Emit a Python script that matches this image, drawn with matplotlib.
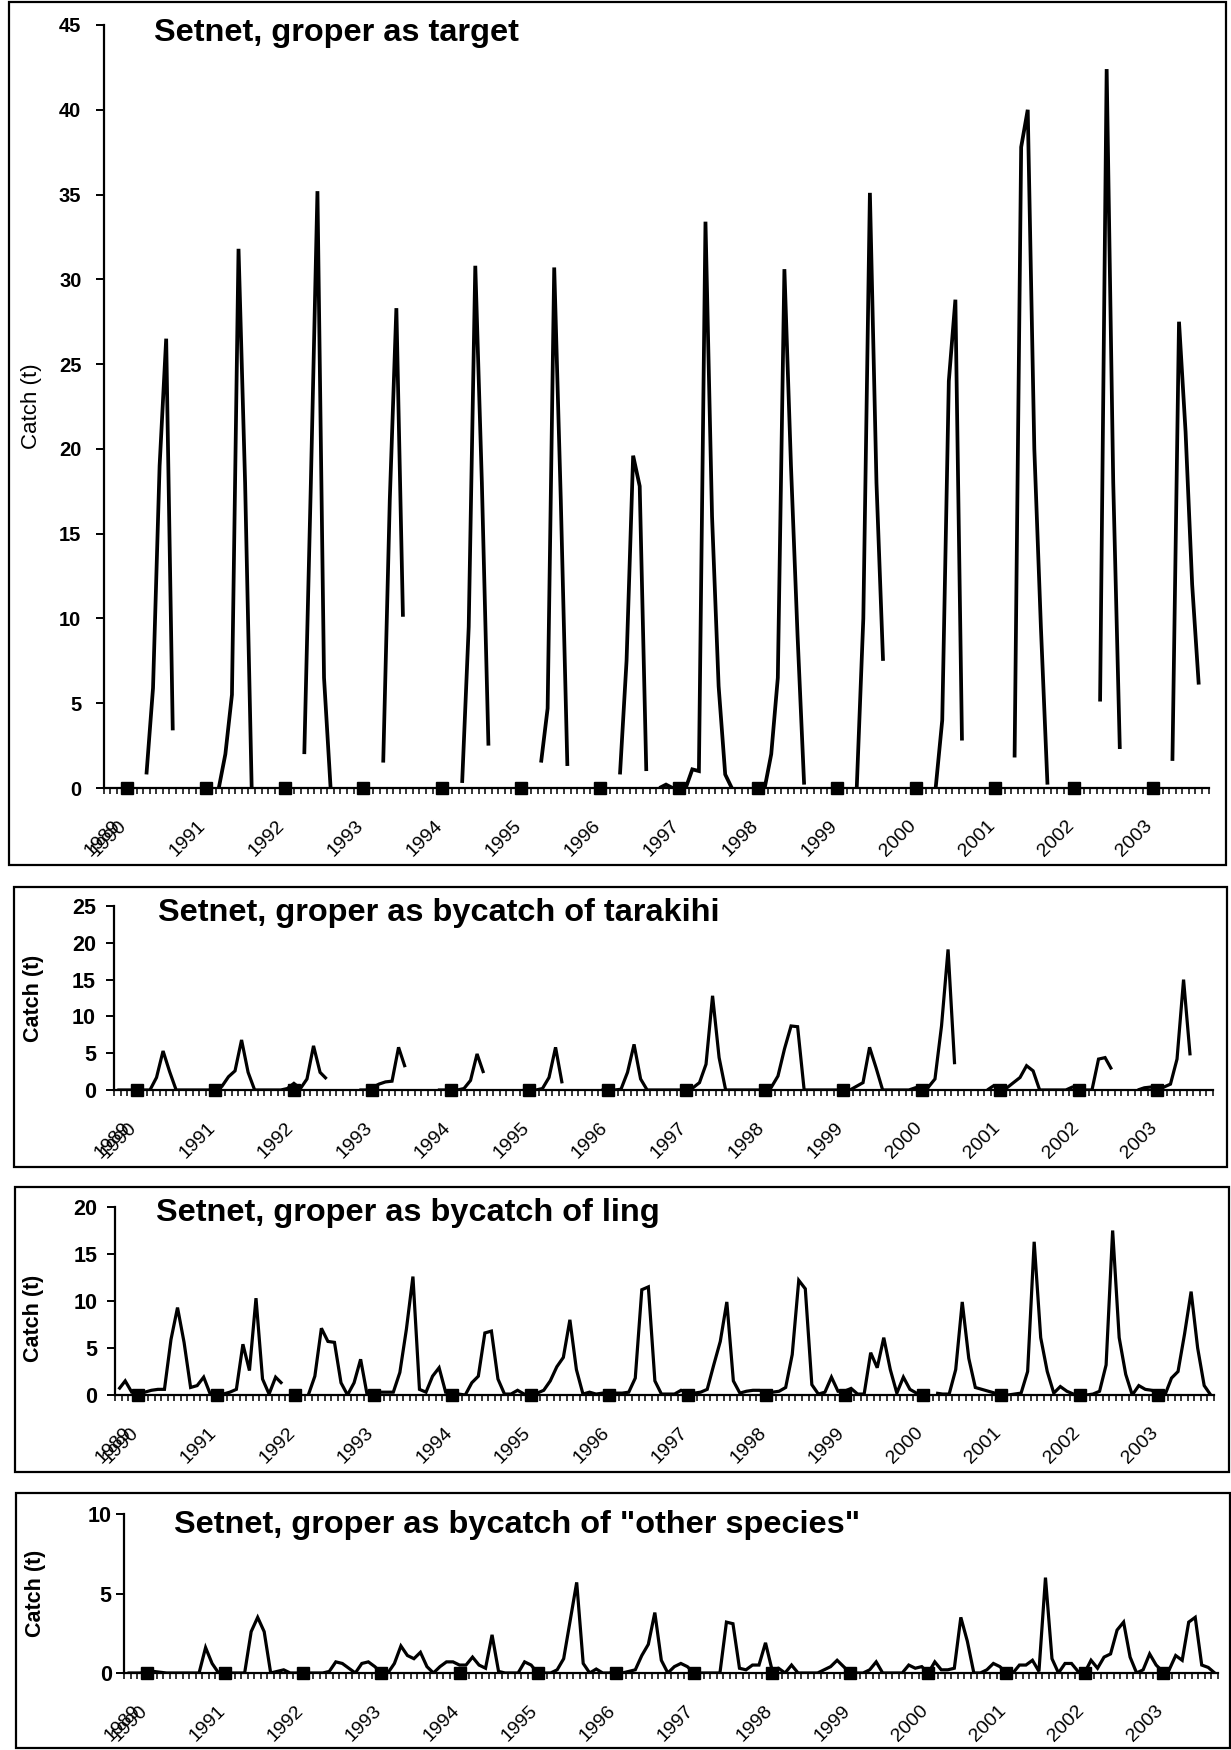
import matplotlib
matplotlib.use("Agg")
import matplotlib.pyplot as plt
import numpy as np
from matplotlib.patches import Rectangle
from matplotlib.transforms import ScaledTranslation

plt.rcParams['font.family'] = ['Liberation Sans', 'DejaVu Sans']

N = float('nan')

# ---------------- data ----------------
# monthly categories, 14 fishing years x 12 months (index 0 .. 167)
months = list(range(168))
year_labels = ['1989', '1990', '1991', '1992', '1993', '1994', '1995', '1996',
               '1997', '1998', '1999', '2000', '2001', '2002', '2003']
year_label_month = [0, 1, 13, 25, 37, 49, 61, 73, 85, 97, 109, 121, 133, 145, 157]
# year-start markers (plotted at zero)
marker_month = [3, 15, 27, 39, 51, 63, 75, 87, 99, 111, 123, 135, 147, 159]
marker_value = [0] * 14

target = [
    N, N, N, N, N, N, 0.8, 5.9, 19.0, 26.5, 3.4, N,
    N, N, N, N, N, 0.0, 2.0, 5.5, 31.8, 18.0, 0.0, N,
    N, N, N, N, N, N, 2.0, 18.0, 35.2, 6.5, 0.0, N,
    N, N, N, N, N, N, 1.5, 17.0, 28.3, 10.1, N, N,
    N, N, N, N, N, N, 0.3, 9.5, 30.8, 18.0, 2.5, N,
    N, N, N, N, N, N, 1.5, 4.7, 30.7, 17.0, 1.3, N,
    N, N, N, N, N, N, 0.8, 7.5, 19.6, 17.8, 1.0, N,
    0.0, 0.2, 0.0, N, 0.0, 1.1, 1.0, 33.4, 16.0, 6.0, 0.8, 0.0,
    N, N, N, N, 0.0, 2.0, 6.5, 30.6, 19.0, 9.0, 0.2, N,
    N, N, N, N, N, N, 0.0, 10.0, 35.1, 18.0, 7.5, N,
    N, N, N, N, N, N, 0.0, 4.0, 24.0, 28.8, 2.8, N,
    N, N, N, N, N, N, 1.8, 37.8, 40.0, 20.0, 9.5, 0.2,
    N, N, N, N, N, N, N, 5.1, 42.4, 18.0, 2.3, N,
    N, N, N, N, N, N, 1.6, 27.5, 21.0, 12.0, 6.1, N,
]

tarakihi = [
    0.0, 0.0, 0.0, 0.0, 0.0, 0.0, 1.7, 5.3, 2.5, 0.0, 0.0, 0.0,
    0.0, 0.0, 0.0, 0.3, 0.5, 1.8, 2.6, 6.8, 2.4, 0.0, 0.0, 0.0,
    0.0, 0.0, 0.2, 0.9, 0.2, 1.5, 6.0, 2.4, 1.5, N, N, N,
    N, 0.0, 0.0, 0.3, 0.8, 1.1, 1.2, 5.8, 3.1, N, N, N,
    N, 0.0, 0.0, 0.0, 0.0, 0.2, 1.3, 4.9, 2.3, N, N, N,
    N, N, 0.0, 0.0, 0.0, 0.2, 1.7, 5.8, 0.9, N, N, N,
    N, N, 0.0, 0.0, 0.0, 0.1, 2.4, 6.2, 1.5, 0.0, 0.0, 0.0,
    0.0, 0.0, 0.0, 0.0, 0.3, 1.0, 3.5, 12.8, 4.4, 0.0, 0.0, 0.0,
    0.0, 0.0, 0.0, 0.0, 0.4, 1.9, 5.6, 8.7, 8.6, 0.0, 0.0, 0.0,
    0.0, 0.0, 0.0, 0.0, 0.0, 0.5, 1.0, 5.8, 3.0, 0.0, 0.0, 0.0,
    0.0, 0.0, 0.3, 0.5, 0.4, 1.5, 8.7, 19.1, 3.5, N, N, N,
    N, 0.0, 0.6, 0.0, 0.3, 1.0, 1.7, 3.3, 2.6, 0.0, 0.0, 0.0,
    0.0, 0.0, 0.4, 0.5, 0.0, 0.0, 4.2, 4.4, 2.8, N, N, N,
    0.0, 0.3, 0.4, 0.0, 0.4, 0.8, 4.2, 15.0, 4.7, N, N, N,
]

ling = [
    0.6, 1.5, 0.3, 0.3, 0.3, 0.5, 0.6, 0.6, 5.9, 9.3, 5.6, 0.8,
    1.0, 1.9, 0.1, 0.1, 0.1, 0.3, 0.6, 5.4, 2.6, 10.3, 1.7, 0.1,
    1.9, 1.2, N, N, N, 0.0, 2.0, 7.1, 5.7, 5.6, 1.3, 0.0,
    1.3, 3.8, 0.0, 0.2, 0.3, 0.3, 0.3, 2.4, 7.0, 12.6, 0.6, 0.3,
    2.0, 2.9, 0.3, 0.3, 0.1, 0.0, 1.3, 2.0, 6.6, 6.8, 1.7, 0.1,
    0.1, 0.5, 0.1, 0.1, 0.2, 0.5, 1.5, 3.0, 4.0, 8.0, 2.7, 0.1,
    0.3, 0.1, 0.2, 0.2, 0.2, 0.2, 0.3, 1.8, 11.2, 11.5, 1.5, 0.1,
    0.1, 0.1, 0.5, 0.3, 0.2, 0.3, 0.6, 3.2, 5.7, 9.9, 1.5, 0.2,
    0.4, 0.5, 0.5, 0.3, 0.3, 0.4, 0.8, 4.3, 12.2, 11.3, 1.1, 0.1,
    0.3, 1.9, 0.4, 0.4, 0.7, 0.1, 0.1, 4.5, 2.9, 6.1, 2.7, 0.2,
    1.9, 0.6, 0.2, 0.2, N, 0.2, 0.1, 0.1, 2.7, 9.9, 3.9, 0.8,
    0.6, 0.4, 0.2, 0.0, 0.0, 0.1, 0.2, 2.5, 16.3, 6.1, 2.5, 0.2,
    0.9, 0.4, 0.1, 0.0, 0.0, 0.1, 0.4, 3.2, 17.5, 6.1, 2.2, 0.0,
    1.0, 0.6, 0.5, 0.0, 0.0, 1.8, 2.5, 6.5, 11.0, 5.0, 1.0, 0.0,
]

other = [
    0.0, 0.0, 0.0, 0.1, 0.1, 0.05, 0.0, 0.0, 0.0, 0.0, 0.0, 0.0,
    1.6, 0.6, 0.0, 0.0, 0.0, 0.0, 0.0, 2.6, 3.5, 2.6, 0.0, 0.1,
    0.2, 0.0, 0.0, 0.0, 0.0, 0.0, 0.0, 0.1, 0.7, 0.6, 0.3, 0.0,
    0.6, 0.7, 0.4, 0.0, 0.0, 0.6, 1.7, 1.1, 0.9, 1.3, 0.4, 0.0,
    0.4, 0.7, 0.7, 0.5, 0.5, 1.0, 0.5, 0.3, 2.4, 0.1, 0.0, 0.0,
    0.0, 0.7, 0.5, 0.0, 0.0, 0.0, 0.2, 0.9, 3.3, 5.7, 0.6, 0.0,
    0.25, 0.0, 0.0, 0.1, 0.0, 0.1, 0.2, 1.1, 1.8, 3.8, 0.8, 0.0,
    0.4, 0.6, 0.4, 0.0, 0.0, 0.0, 0.0, 0.0, 3.2, 3.1, 0.3, 0.2,
    0.5, 0.5, 1.9, 0.2, 0.3, 0.0, 0.5, 0.0, 0.0, 0.0, 0.0, 0.2,
    0.4, 0.8, 0.4, 0.0, 0.0, 0.0, 0.2, 0.7, 0.0, 0.0, 0.0, 0.0,
    0.5, 0.3, 0.4, 0.0, 0.7, 0.2, 0.2, 0.3, 3.5, 2.0, 0.0, 0.0,
    0.2, 0.6, 0.4, 0.0, 0.0, 0.5, 0.5, 0.8, 0.1, 6.0, 0.9, 0.0,
    0.6, 0.6, 0.1, 0.0, 0.8, 0.3, 1.0, 1.2, 2.7, 3.2, 1.0, 0.0,
    0.2, 1.2, 0.5, 0.1, 0.2, 1.1, 0.8, 3.2, 3.5, 0.5, 0.35, 0.0,
]

titles = ['Setnet, groper as target',
          'Setnet, groper as bycatch of tarakihi',
          'Setnet, groper as bycatch of ling',
          'Setnet, groper as bycatch of "other species"']
series = [target, tarakihi, ling, other]
y_max = [45, 25, 20, 10]
y_step = [5, 5, 5, 5]

# ---------------- layout (pixels) ----------------
W, H = 1231, 1750
fig = plt.figure(figsize=(W / 100, H / 100), dpi=100)
fig.patch.set_facecolor('white')

# axes rectangles: left, right, top, bottom
axes_px = [(103.7, 1208.6, 25, 788),
           (114, 1213, 906, 1090),
           (115.4, 1214, 1207, 1395),
           (124.2, 1218, 1514, 1673)]
boxes_px = [(9, 1226, 2, 865),
            (14, 1227, 887, 1167),
            (15, 1229, 1187, 1472),
            (16, 1230, 1493, 1748)]
title_px = [(154, 33), (158, 913), (156, 1213), (174, 1525)]
ylabel_px = [(32, 406), (34, 998), (34, 1318), (36, 1593)]
ylabel_weight = ['normal', 'bold', 'bold', 'bold']
ylabel_size = [16, 15.5, 15.5, 15.5]
ytick_pad = [10, 7, 7, 3]
ytick_size = [14.5, 15.5, 15.5, 15.5]
line_w = [2.7, 2.3, 2.3, 2.3]

for k in range(4):
    bl, br, bt, bb = boxes_px[k]
    fig.patches.append(Rectangle((bl / W, 1 - bb / H), (br - bl) / W, (bb - bt) / H,
                                 transform=fig.transFigure, fill=False,
                                 edgecolor='black', linewidth=1.6))

    l, r, t, b = axes_px[k]
    ax = fig.add_axes([l / W, 1 - b / H, (r - l) / W, (b - t) / H])
    ax.set_facecolor('none')
    ax.plot(months, series[k], color='black', lw=line_w[k],
            solid_joinstyle='miter', solid_capstyle='butt', zorder=3)
    ax.plot(marker_month, marker_value, 's', color='black', ms=8,
            clip_on=False, zorder=4)

    ax.set_xlim(-0.5, len(months) - 0.5)
    ax.set_ylim(0, y_max[k])

    for s in ['top', 'right']:
        ax.spines[s].set_visible(False)
    for s in ['left', 'bottom']:
        ax.spines[s].set_linewidth(1.6)

    # ticks: parameters first, labels afterwards
    ax.set_yticks(np.arange(0, y_max[k] + 0.1, y_step[k]))
    ax.set_xticks(year_label_month)
    ax.set_xticks(np.arange(-0.5, len(months), 1), minor=True)
    ax.tick_params(axis='y', direction='out', length=6, width=1.4,
                   pad=ytick_pad[k])
    ax.tick_params(axis='x', which='major', length=0, pad=21)
    ax.tick_params(axis='x', which='minor', direction='out', length=4, width=1.1)

    ax.set_yticklabels([str(int(v)) for v in ax.get_yticks()],
                       fontsize=ytick_size[k], fontweight='bold')
    ax.set_xticklabels(year_labels, rotation=45, ha='right', va='top',
                       rotation_mode='anchor', fontsize=14)
    shift = ScaledTranslation(4.5 / 100, 0, fig.dpi_scale_trans)
    for lab in ax.get_xticklabels():
        lab.set_transform(lab.get_transform() + shift)

    tx, ty = title_px[k]
    fig.text(tx / W, 1 - ty / H, titles[k], fontsize=23.4, fontweight='bold',
             ha='left', va='center')
    yx, yy = ylabel_px[k]
    fig.text(yx / W, 1 - yy / H, 'Catch (t)', fontsize=ylabel_size[k],
             fontweight=ylabel_weight[k], rotation=90, ha='center', va='center')

fig.savefig('out.png', dpi=100, facecolor='white')
